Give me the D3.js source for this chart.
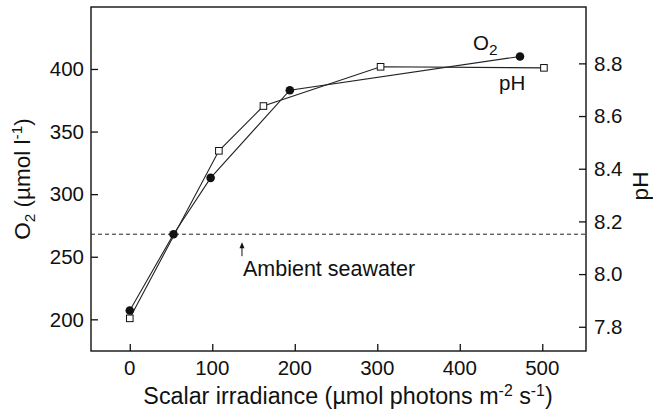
<!DOCTYPE html>
<html>
<head>
<meta charset="utf-8">
<script src="https://cdn.jsdelivr.net/npm/d3@7"></script>
<style>
  html, body { margin: 0; padding: 0; background: #fff; }
  svg { display: block; }
  text { font-family: "Liberation Sans", Arial, Helvetica, sans-serif; fill: #111; }
</style>
</head>
<body>
<script>
// ---- data ----
const o2Irradiance = [0, 53, 98, 194, 473];
const o2Values     = [207, 268, 313, 383, 410];
const phIrradiance = [0, 108, 162, 304, 502];
const phValues     = [7.832, 8.468, 8.638, 8.787, 8.783];
const ambientO2 = 268;
const xTicks  = [0, 100, 200, 300, 400, 500];
const o2Ticks = [200, 250, 300, 350, 400];
const phTicks = [7.8, 8.0, 8.2, 8.4, 8.6, 8.8];

const W = 653, H = 414;
const L = 91, R = 586, T = 7, B = 351;
const FT = 20.5;  // tick labels
const FA = 22.5;  // y-axis titles
const FX = 23.3;  // x-axis title

const svg = d3.select("body").append("svg").attr("width", W).attr("height", H);

const x  = d3.scaleLinear().domain([-47, 553]).range([L, R]);
const y  = d3.scaleLinear().domain([174.7, 449.5]).range([B, T]);
const yp = d3.scaleLinear().domain([7.708, 9.014]).range([B, T]);

// axes with inward ticks
const tick = 7;
const gx = svg.append("g").attr("transform", `translate(0,${B})`)
  .call(d3.axisTop(x).tickValues(xTicks).tickSize(tick).tickFormat(""));
const gl = svg.append("g").attr("transform", `translate(${L},0)`)
  .call(d3.axisRight(y).tickValues(o2Ticks).tickSize(tick).tickFormat(""));
const gr = svg.append("g").attr("transform", `translate(${R},0)`)
  .call(d3.axisLeft(yp).tickValues(phTicks).tickSize(tick).tickFormat(""));
[gx, gl, gr].forEach(g => {
  g.select(".domain").remove();
  g.selectAll("text").remove();
  g.selectAll("line").attr("stroke", "#111").attr("stroke-width", 1.3);
});

// frame
svg.append("rect").attr("x", L).attr("y", T).attr("width", R - L).attr("height", B - T)
  .attr("fill", "none").attr("stroke", "#111").attr("stroke-width", 1.4);

// tick labels
svg.append("g").selectAll("text").data(xTicks).join("text")
  .attr("x", d => x(d)).attr("y", B + 24).attr("text-anchor", "middle")
  .attr("font-size", FT).text(d => d);
svg.append("g").selectAll("text").data(o2Ticks).join("text")
  .attr("x", L - 7).attr("y", d => y(d)).attr("dy", "0.35em").attr("text-anchor", "end")
  .attr("font-size", FT).text(d => d);
svg.append("g").selectAll("text").data(phTicks).join("text")
  .attr("x", R + 8).attr("y", d => yp(d)).attr("dy", "0.35em").attr("text-anchor", "start")
  .attr("font-size", FT).text(d => d.toFixed(1));

// axis titles
const xt = svg.append("text").attr("x", 348).attr("y", 404)
  .attr("text-anchor", "middle").attr("font-size", FX);
xt.append("tspan").text("Scalar irradiance (\u00b5mol photons m");
xt.append("tspan").attr("dy", -8).attr("font-size", FX * 0.68).text("-2");
xt.append("tspan").attr("dy", 8).text(" s");
xt.append("tspan").attr("dy", -8).attr("font-size", FX * 0.68).text("-1");
xt.append("tspan").attr("dy", 8).text(")");

const yt = svg.append("text").attr("transform", `translate(30,${(T + B) / 2}) rotate(-90)`)
  .attr("text-anchor", "middle").attr("font-size", FA);
yt.append("tspan").text("O");
yt.append("tspan").attr("dy", 5).attr("font-size", FA * 0.68).text("2");
yt.append("tspan").attr("dy", -5).text(" (\u00b5mol l");
yt.append("tspan").attr("dy", -8).attr("font-size", FA * 0.68).text("-1");
yt.append("tspan").attr("dy", 8).text(")");

svg.append("text").attr("transform", `translate(648,${(T + B) / 2 + 7}) rotate(-90)`)
  .attr("text-anchor", "middle").attr("font-size", FA).text("pH");

// ambient line
svg.append("line").attr("x1", L).attr("x2", R).attr("y1", y(ambientO2)).attr("y2", y(ambientO2))
  .attr("stroke", "#222").attr("stroke-width", 1).attr("stroke-dasharray", "4,3");
svg.append("line").attr("x1", x(136)).attr("x2", x(136))
  .attr("y1", y(ambientO2) + 22).attr("y2", y(ambientO2) + 10)
  .attr("stroke", "#111").attr("stroke-width", 1);
svg.append("path")
  .attr("d", `M${x(136)},${y(ambientO2) + 8} l-2.5,6 l5,0 z`).attr("fill", "#111");
svg.append("text").attr("x", x(136) + 1).attr("y", y(ambientO2) + 42)
  .attr("font-size", 21.5).text("Ambient seawater");

// lines
const o2Data = o2Irradiance.map((d, i) => [d, o2Values[i]]);
const phData = phIrradiance.map((d, i) => [d, phValues[i]]);
svg.append("path").datum(phData)
  .attr("d", d3.line().x(d => x(d[0])).y(d => yp(d[1])))
  .attr("fill", "none").attr("stroke", "#222").attr("stroke-width", 1.1);
svg.append("path").datum(o2Data)
  .attr("d", d3.line().x(d => x(d[0])).y(d => y(d[1])))
  .attr("fill", "none").attr("stroke", "#222").attr("stroke-width", 1.1);

// markers
svg.append("g").selectAll("rect").data(phData).join("rect")
  .attr("x", d => x(d[0]) - 3.3).attr("y", d => yp(d[1]) - 3.3)
  .attr("width", 6.6).attr("height", 6.6)
  .attr("fill", "#fff").attr("stroke", "#111").attr("stroke-width", 1);
svg.append("g").selectAll("circle").data(o2Data).join("circle")
  .attr("cx", d => x(d[0])).attr("cy", d => y(d[1])).attr("r", 4.3).attr("fill", "#111");

// series labels
const lo = svg.append("text").attr("x", 473).attr("y", 50).attr("font-size", FT);
lo.append("tspan").text("O");
lo.append("tspan").attr("dy", 5).attr("font-size", FT * 0.75).text("2");
svg.append("text").attr("x", 499).attr("y", 90).attr("font-size", FT).text("pH");
</script>
</body>
</html>
